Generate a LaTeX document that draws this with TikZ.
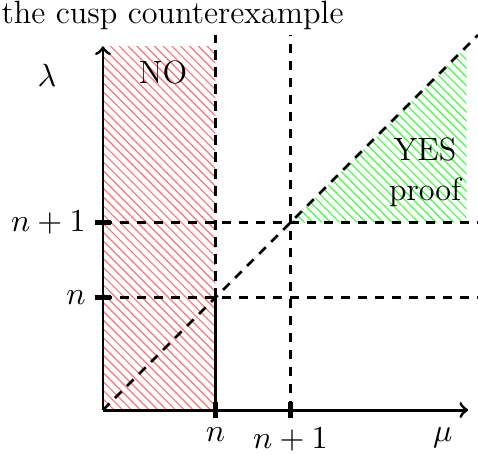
\documentclass[tikz,border=0pt]{standalone}
\usetikzlibrary{patterns}
\begin{document}
\begin{tikzpicture}[x=0.9cm,y=0.9cm,
  every node/.style={font=\fontsize{11}{13.5}\selectfont},
  axis/.style={line width=1pt},
  guide/.style={line width=0.9pt,dash pattern=on 3.2pt off 2.6pt},
  tick/.style={line width=1.5pt},
  nofill/.style={pattern=north west lines,pattern color=red!55},
  yesfill/.style={pattern=north west lines,pattern color=green!75}]
\useasboundingbox (-1.373,-0.587) rectangle (5.0,5.467);
% coordinates
\coordinate (O) at (0,0);
\coordinate (xend) at (4.87,0);
\coordinate (yend) at (0,4.85);
\coordinate (xn) at (1.5,0);
\coordinate (xm) at (2.5,0);
\coordinate (yn) at (0,1.5);
\coordinate (ym) at (0,2.5);
\coordinate (nn) at (1.5,1.5);
\coordinate (mm) at (2.5,2.5);
% fills
\fill[nofill] (O) rectangle (1.5,4.85);
\fill[yesfill] (mm) -- (4.85,4.85) -- (4.85,2.5) -- cycle;
% guides
\draw[guide] (nn) -- (1.5,5);
\draw[guide] (xm) -- (2.5,5);
\draw[guide] (yn) -- (5,1.5);
\draw[guide] (ym) -- (5,2.5);
\draw[guide] (O) -- (5,5);
\draw[axis] (xn) -- (nn);
% axes
\draw[axis,->] (O) -- (xend);
\draw[axis,->] (O) -- (yend);
% ticks
\foreach \c in {xn,xm} \draw[tick] ([yshift=2.6pt]\c) -- ([yshift=-2.6pt]\c);
\foreach \c in {yn,ym} \draw[tick] ([xshift=2.6pt]\c) -- ([xshift=-2.6pt]\c);
% labels
\node[below=2.4pt] (lxn) at (xn) {$n$};
\node[below=2.4pt] (lxm) at (xm) {$n+1$};
\node[left=2.4pt] (lyn) at (yn) {$n$};
\node[left=2.4pt] (lym) at (ym) {$n+1$};
\node[below=2.4pt] (lmu) at (4.53,0) {$\mu$};
\node (llam) at (-0.747,4.467) {$\lambda$};
\node (lno) at (0.8,4.507) {NO};
\node[align=center,inner sep=0pt] (lyes) at (4.293,3.17) {YES\\proof};
\node[anchor=base west,inner sep=0pt] (title) at (-1.36,5.15) {the cusp counterexample};
\end{tikzpicture}
\end{document}
